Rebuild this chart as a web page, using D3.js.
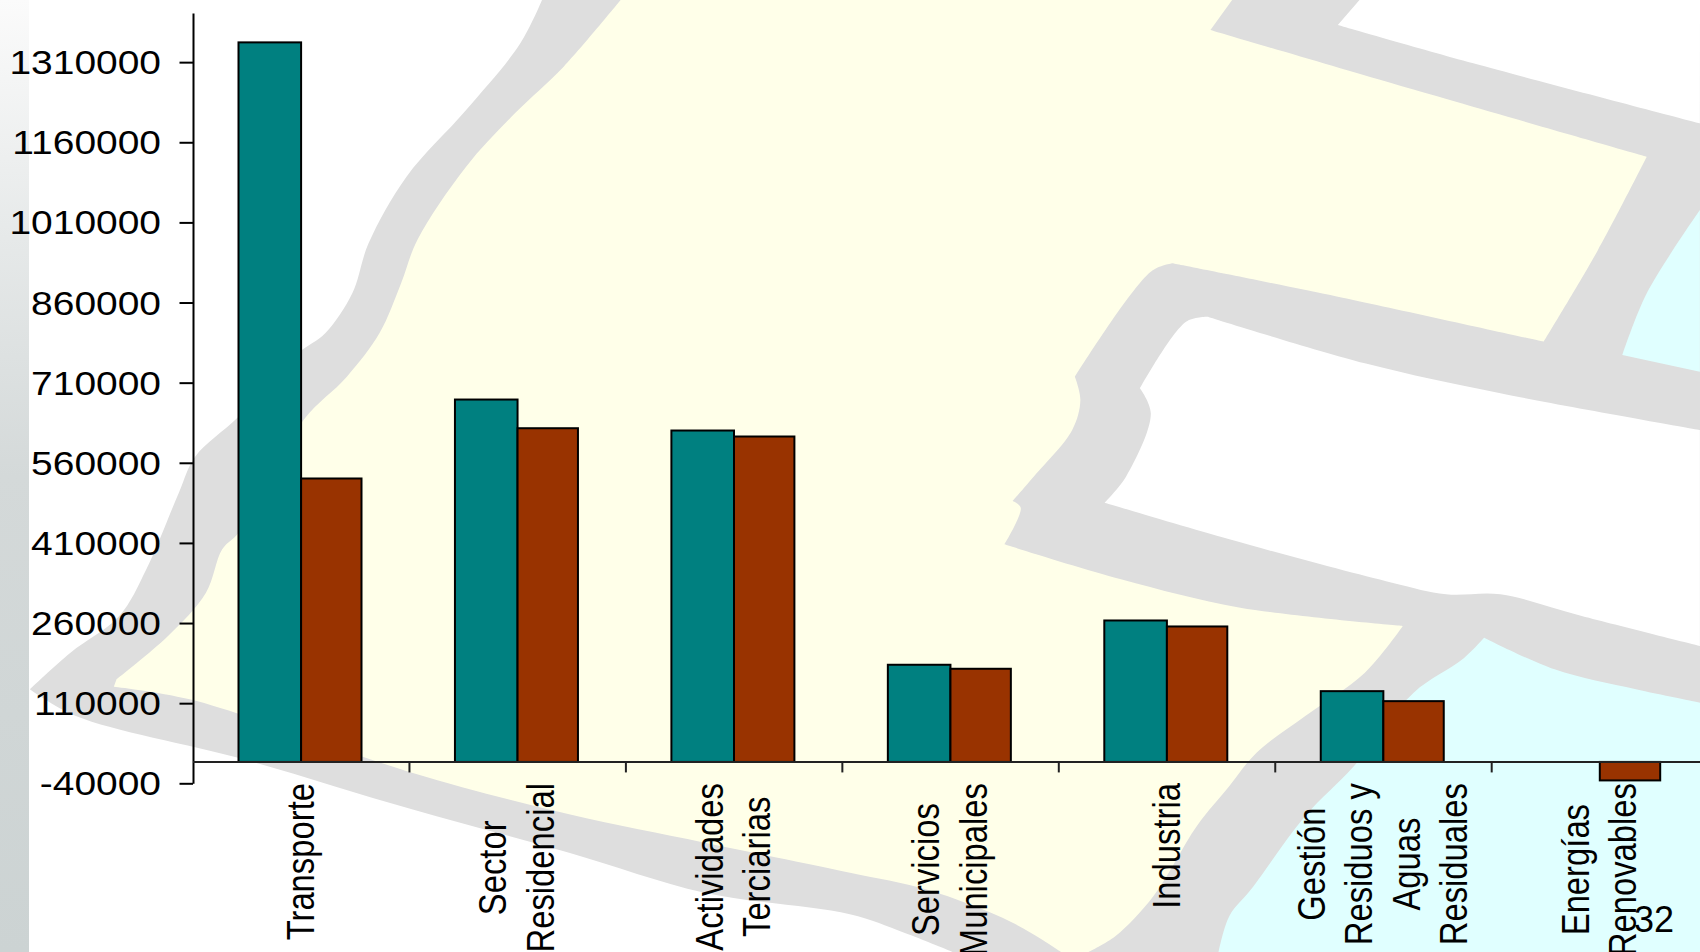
<!DOCTYPE html>
<html><head><meta charset="utf-8">
<script src="https://cdn.jsdelivr.net/npm/d3@7"></script>
<style>
html,body{margin:0;padding:0;background:#fff;overflow:hidden}
svg{display:block}
text{font-family:"Liberation Sans",Arial,sans-serif;fill:#000}
</style></head><body>
<svg id="c" width="1700" height="952"></svg>
<script>
const categories = ["Transporte","Sector Residencial","Actividades Terciarias","Servicios Municipales","Industria","Gestión Residuos y Aguas Residuales","Energías Renovables"];
const categoryLines = [["Transporte"],["Sector","Residencial"],["Actividades","Terciarias"],["Servicios","Municipales"],["Industria"],["Gestión","Residuos y","Aguas","Residuales"],["Energías","Renovables"]];
const seriesA = [1347000,678400,620400,181900,264800,132500,null];
const seriesB = [530600,624700,609200,174400,253600,113800,-34600];
const yTicks = [-40000,110000,260000,410000,560000,710000,860000,1010000,1160000,1310000];
const pageNumber = "32";

const W=1700,H=952;
const svg=d3.select("#c");
const defs=svg.append("defs");
const g=defs.append("linearGradient").attr("id","strip").attr("x1",0).attr("x2",0).attr("y1",0).attr("y2",1);
[[0,"#fbfbfb"],[0.25,"#e6e9e9"],[0.5,"#d4d9d9"],[1,"#ccd3d3"]].forEach(s=>g.append("stop").attr("offset",s[0]).attr("stop-color",s[1]));

// decorative map background, traced in zoom-space helpers
const z1=(x,y)=>[x/1.845,y/3];
const z2=(x,y)=>[850+x/1.845,y/3];
const z3=(x,y)=>[x/1.845,476+y/3];
const z4=(x,y)=>[850+x/1.845,476+y/3];
const curved=d3.line().curve(d3.curveCatmullRom.alpha(0.5));
// each segment is smoothed on its own; corners stay sharp where segments meet
const shape=(segs,fill)=>svg.append("path").attr("fill",fill)
  .attr("d",segs.map((s,i)=>{const d=curved(s);return i?d.replace(/^M/,"L"):d;}).join("")+"Z");

const GREY="#dedede",YEL="#ffffe9",CY="#e0ffff";
// grey base
shape([
 [z1(1000,0),z1(960,130),z1(860,330),z1(750,530),z1(680,730),z1(650,880),z1(600,1000),z1(550,1060),z1(440,1250),z1(360,1370),
  z3(330,50),z3(270,280),z3(220,420),z3(130,530),z3(55,640)],
 [z3(55,640),z3(140,720),z3(450,850),z3(760,1000),z3(1050,1130),z3(1300,1250),z3(1568,1315),z4(100,1370),z4(190,1428)],
 [z4(190,1428),[W,H],[W,0]]
],GREY);
// yellow land
shape([
 [z1(1145,0),z2(705,0)],[z2(705,0),z2(665,90)],
 [z2(665,90),z2(1000,250),z2(1470,470)],
 [z2(1470,470),z2(1380,750),z2(1280,1025)],
 [z2(1280,1025),z2(900,890),z2(595,790)],
 [z2(595,790),z2(555,815),z2(415,1130)],
 [z2(415,1130),z2(425,1200),z2(410,1290),z2(340,1428),z4(300,75)],
 [z4(300,75),z4(315,95),z4(285,205)],
 [z4(285,205),z4(500,310),z4(720,395),z4(1020,450)],
 [z4(1020,450),z4(950,590),z4(840,720),z4(750,830),z4(700,930),z4(640,1050),z4(560,1260),z4(490,1380),z4(440,1428)],
 [z4(440,1428),z4(390,1428)],
 [z4(390,1428),z4(300,1340),z4(140,1240),z4(0,1190),z3(1300,1100),z3(1050,1015),z3(760,890),z3(350,670),z3(210,632)],
 [z3(210,632),z3(215,610)],
 [z3(215,610),z3(310,480),z3(380,350),z3(410,220),z3(440,170),z1(560,1260),z1(640,1130),z1(700,1000),z1(740,850),z1(770,720),z1(860,500),z1(950,340),z1(1040,200),z1(1145,0)]
],YEL);
// cyan
shape([[z2(1568,630),z2(1470,880),z2(1425,1065)],[z2(1425,1065),z2(1568,1115)]],CY);
shape([
 [z4(1170,485),z4(1300,580),z4(1450,640),z4(1568,680)],
 [z4(1568,680),[W,H],z4(680,1428)],
 [z4(680,1428),z4(700,1320),z4(740,1240),z4(840,1020),z4(930,870),z4(1040,650),z4(1130,550),z4(1170,485)]
],CY);
// white holes
shape([[z2(940,0),z2(900,75)],[z2(900,75),z2(1150,190),z2(1568,370)],[z2(1568,370),[W,0]]],"#fff");
shape([
 [z2(660,950),z2(620,965),z2(535,1165)],
 [z2(535,1165),z2(555,1240),z2(510,1428),z4(470,80)],
 [z4(470,80),z4(700,190),z4(1000,320),z4(1100,355),z4(1200,355),z4(1350,420),z4(1568,510)],
 [z4(1568,510),z2(1568,1290)],
 [z2(1568,1290),z2(1200,1180),z2(950,1090),z2(660,950)]
],"#fff");
// left strip
svg.append("rect").attr("x",0).attr("y",0).attr("width",29).attr("height",H).attr("fill","url(#strip)");

// scales
const axisX=193,step=216.45;
const x=d3.scaleBand().domain(categories).range([axisX,axisX+step*categories.length]);
const y=d3.scaleLinear().domain([-40000,1402000]).range([783.3,13]);

// bars
const barsA=svg.append("g"),barsB=svg.append("g");
const rows=categories.map((c,i)=>({c,a:seriesA[i],b:seriesB[i]}));
barsA.selectAll("rect").data(rows.filter(d=>d.a!=null)).join("rect")
 .attr("x",d=>x(d.c)+45.5).attr("width",62.6)
 .attr("y",d=>y(Math.max(0,d.a))).attr("height",d=>Math.abs(y(d.a)-y(0)))
 .attr("fill","#008080").attr("stroke","#000").attr("stroke-width",2);
barsB.selectAll("rect").data(rows).join("rect")
 .attr("x",d=>x(d.c)+108.1).attr("width",60.4)
 .attr("y",d=>y(Math.max(0,d.b))).attr("height",d=>Math.abs(y(d.b)-y(0)))
 .attr("fill","#993300").attr("stroke","#000").attr("stroke-width",2);

// y axis
const ya=svg.append("g").attr("transform",`translate(${axisX},0)`)
 .call(d3.axisLeft(y).tickValues(yTicks).tickSize(13.5).tickSizeOuter(0).tickFormat(d=>String(d)));
ya.selectAll("path,line").attr("stroke","#000").attr("stroke-width",2);
ya.selectAll("text").attr("font-size",33).attr("x",0).attr("text-anchor","end")
 .attr("font-family",'"Liberation Sans"').attr("fill","#000")
 .attr("transform","translate(-32,1) scale(1.18,1)");

// x axis at zero
const xa=svg.append("g").attr("transform",`translate(0,${y(0)})`);
xa.append("line").attr("x1",axisX).attr("x2",x.range()[1]).attr("stroke","#222").attr("stroke-width",2);
xa.selectAll("line.t").data(categories).join("line").attr("class","t")
 .attr("x1",d=>x(d)+x.bandwidth()).attr("x2",d=>x(d)+x.bandwidth())
 .attr("y1",0).attr("y2",10.5).attr("stroke","#222").attr("stroke-width",2);

// category labels
const labelTop=783,lineGap=47.5,capShift=12.5,fs=32.8,sx=1.2;
categories.forEach((c,i)=>{
  const lines=categoryLines[i],cx=x(c)+x.bandwidth()/2+capShift;
  const ts=lines.map((t,j)=>svg.append("text").attr("font-size",fs).attr("text-anchor","middle").text(t)
     .datum(cx+(j-(lines.length-1)/2)*lineGap));
  const maxLen=d3.max(ts,t=>t.node().getComputedTextLength());
  ts.forEach(t=>t.attr("transform",`translate(${t.datum()},${labelTop+maxLen/2}) scale(${sx},1) rotate(-90)`));
});

// page number
svg.append("text").attr("x",1654).attr("y",932).attr("text-anchor","middle").attr("font-size",36).text(pageNumber);
</script>
</body></html>
